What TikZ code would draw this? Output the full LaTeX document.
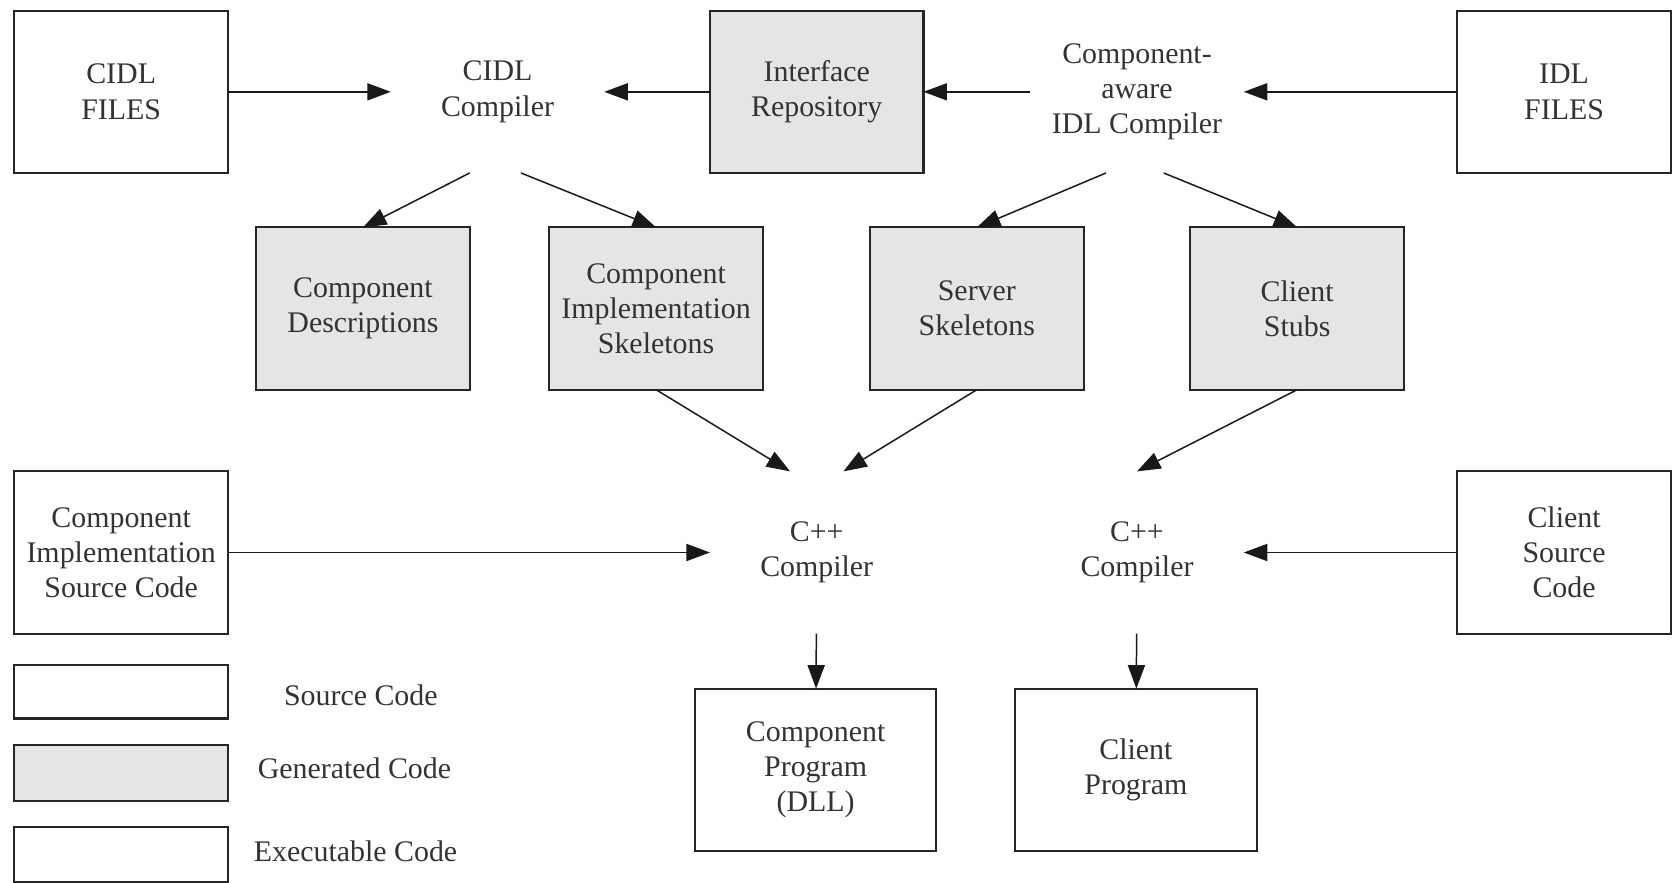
\documentclass[tikz,border=0pt]{standalone}
\usepackage{fontspec}
\setmainfont{Liberation Serif}
\usetikzlibrary{arrows.meta,calc}
\begin{document}
\begin{tikzpicture}[x=0.5pt,y=-0.5pt,
  base/.style={inner sep=0pt,outer sep=0pt,align=center,text=black!80,
    font=\fontsize{14}{16.5}\selectfont,minimum width=100pt,minimum height=76pt},
  src/.style={base,draw=black!85,line width=1pt,fill=white},
  gen/.style={base,draw=black!85,line width=1pt,fill=black!10},
  txt/.style={base},
  leg/.style={inner sep=0pt,text=black!80,font=\fontsize{14}{16.5}\selectfont},
  arr/.style={draw=black!90,line width=0.7pt,-{Triangle[length=11pt,width=8pt]}}]
\useasboundingbox (0,0) rectangle (1568,827);
% row 1
\node[src] (cidl) at (113.5,86) {CIDL\\FILES};
\node[txt] (cidlc) at (466,86) {CIDL\\Compiler};
\node[gen] (ir) at (765,86) {Interface\\Repository};
\node[txt] (aidl) at (1065,86) {Component-\\aware\\IDL Compiler};
\node[src] (idl) at (1465,86) {IDL\\FILES};
% row 2
\node[gen] (cd) at (340,289) {Component\\Descriptions};
\node[gen] (cis) at (614.5,289) {Component\\Implementation\\Skeletons};
\node[gen] (ss) at (915,289) {Server\\Skeletons};
\node[gen] (cs) at (1215,289) {Client\\Stubs};
% row 3
\node[src] (cisrc) at (113.5,517.5) {Component\\Implementation\\Source Code};
\node[txt] (cpp1) at (765,517.5) {C++\\Compiler};
\node[txt] (cpp2) at (1065,517.5) {C++\\Compiler};
\node[src] (csrc) at (1465,517.5) {Client\\Source\\Code};
% row 4
\node[src,minimum width=113pt] (cprog) at (764,721) {Component\\Program\\(DLL)};
\node[src,minimum width=113pt] (clprog) at (1064,721) {Client\\Program};
% legend
\node[src,minimum height=25pt] (l1) at (113.5,648) {};
\node[gen,minimum height=26pt] (l2) at (113.5,724) {};
\node[src,minimum height=25.5pt] (l3) at (113.5,800.5) {};
\node[leg] (t1) at (338,651) {Source Code};
\node[leg] (t2) at (332,720) {Generated Code};
\node[leg] (t3) at (333,797) {Executable Code};
% arrows
\draw[arr] (cidl) -- (cidlc);
\draw[arr] (ir) -- (cidlc);
\draw[arr] (aidl) -- (ir);
\draw[arr] (idl) -- (aidl);
\draw[arr] ($(cidlc.south)+(-26,0)$) -- (cd.north);
\draw[arr] ($(cidlc.south)+(22,0)$) -- (cis.north);
\draw[arr] ($(aidl.south)+(-29,0)$) -- (ss.north);
\draw[arr] ($(aidl.south)+(25,0)$) -- (cs.north);
\draw[arr] (cis.south) -- ($(cpp1.north)+(-25,0)$);
\draw[arr] (ss.south) -- ($(cpp1.north)+(25,0)$);
\draw[arr] (cs.south) -- (cpp2.north);
\draw[arr] (cisrc) -- (cpp1);
\draw[arr] (csrc) -- (cpp2);
\draw[arr] (cpp1) -- (cprog);
\draw[arr] (cpp2) -- (clprog);
\end{tikzpicture}
\end{document}
